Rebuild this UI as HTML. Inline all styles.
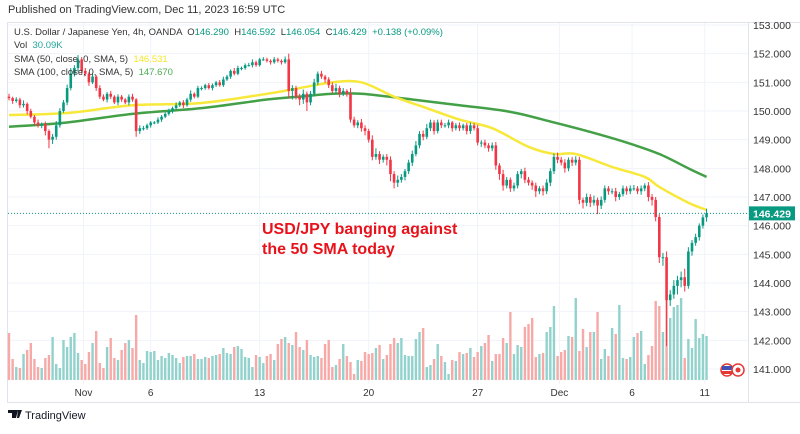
<!DOCTYPE html>
<html><head><meta charset="utf-8">
<style>
html,body{margin:0;padding:0;background:#fff;}
body{width:800px;height:429px;overflow:hidden;font-family:"Liberation Sans",sans-serif;}
svg text{font-family:"Liberation Sans",sans-serif;}
</style></head>
<body>
<svg id="chart" width="800" height="429" viewBox="0 0 800 429" xmlns="http://www.w3.org/2000/svg">
<text x="8" y="13" font-size="11" fill="#333">Published on TradingView.com, Dec 11, 2023 16:59 UTC</text>
<rect x="7.5" y="22.5" width="800" height="380" fill="none" stroke="#e0e3eb"/>
<line x1="748.5" y1="22" x2="748.5" y2="402" stroke="#e0e3eb"/>
<g id="grid"></g>
<g id="vol"></g>
<g id="smas"></g>
<g id="candles"></g>
<g id="axes"></g>
<g font-size="9.5" fill="#333">
<text x="14" y="35" xml:space="preserve">U.S. Dollar / Japanese Yen, 4h, OANDA  O<tspan fill="#089981">146.290</tspan>  H<tspan fill="#089981">146.592</tspan>  L<tspan fill="#089981">146.054</tspan>  C<tspan fill="#089981">146.429  +0.138 (+0.09%)</tspan></text>
<text x="14" y="48" xml:space="preserve">Vol  <tspan fill="#26a69a">30.09K</tspan></text>
<text x="14" y="62" xml:space="preserve">SMA (50, close, 0, SMA, 5)  <tspan fill="#f5e626">146.531</tspan></text>
<text x="14" y="75" xml:space="preserve">SMA (100, close, 0, SMA, 5)  <tspan fill="#4caf50">147.670</tspan></text>
</g>
<g font-size="16" font-weight="bold" fill="#e8121a">
<text x="262" y="234">USD/JPY banging against</text>
<text x="262" y="254">the 50 SMA today</text>
</g>
<g>
<circle cx="727" cy="370" r="6" fill="#fff" stroke="#e53935" stroke-width="1.5"/>
<rect x="722" y="366" width="10" height="4" fill="#3f51b5"/>
<rect x="722" y="371" width="10" height="3" fill="#e53935"/>
<circle cx="738" cy="370" r="6" fill="#fff" stroke="#e53935" stroke-width="1.5"/>
<circle cx="738" cy="370" r="2.5" fill="#e53935"/>
</g>
<g>
<path d="M8 410h7v8h-3v-5h-4z M15 410h3l-2 8h-1z M18 410h4l-3 8h-2z" fill="#131722"/>
<text x="25" y="419" font-size="11" fill="#131722">TradingView</text>
</g>
</svg>
<script>
const firstOpen = 150.5;
const closes = [150.45,150.35,150.4,150.2,150.25,150.0,149.8,149.6,149.5,149.55,
149.3,149.0,149.1,149.5,150.0,150.3,150.8,151.3,151.5,151.8,
151.4,151.3,151.0,151.2,150.8,150.5,150.4,150.6,150.5,150.3,
150.5,150.4,150.3,150.5,150.4,149.3,149.4,149.4,149.5,149.6,
149.6,149.7,149.8,149.9,150.0,150.1,150.2,150.3,150.2,150.4,
150.6,150.5,150.8,150.8,150.9,150.8,150.9,151.0,150.9,151.1,
151.2,151.4,151.3,151.5,151.5,151.6,151.6,151.7,151.6,151.8,
151.8,151.75,151.7,151.8,151.75,151.7,151.8,150.7,150.8,150.5,
150.4,150.6,150.3,150.6,151.0,151.3,151.2,151.1,150.9,150.7,
150.8,150.6,150.7,150.6,149.7,149.5,149.6,149.4,149.3,149.0,
148.4,148.5,148.3,148.4,148.3,147.8,147.5,147.6,147.7,147.9,
148.2,148.5,148.8,149.2,149.1,149.4,149.6,149.3,149.6,149.5,
149.5,149.6,149.4,149.5,149.4,149.5,149.3,149.5,149.4,148.9,
148.9,148.8,148.7,148.8,148.1,147.8,147.4,147.6,147.3,147.4,
147.8,147.9,147.6,147.5,147.4,147.2,147.3,147.2,147.5,147.9,
148.4,148.3,148.2,148.0,148.3,148.2,148.3,146.9,146.8,147.0,
146.8,146.9,146.7,146.9,147.3,147.2,147.2,147.0,147.1,147.3,
147.2,147.3,147.3,147.2,147.3,147.4,147.0,146.9,146.3,144.9,
144.9,143.4,143.6,143.9,144.1,144.2,143.9,145.1,145.4,145.6,
146.0,146.29,146.43];
const wickUpCents = [10,5,8,6,12,5,8,6,10,5,8,6,10,15,10,8,12,20,10,15,
8,10,6,12,5,10,8,6,10,5,8,6,5,8,10,5,10,8,6,5,
5,8,6,5,8,5,10,5,8,6,12,5,8,6,5,8,6,5,8,10,
6,5,10,8,5,6,8,10,6,5,8,6,5,8,6,5,10,20,10,8,
10,15,8,10,12,8,10,6,8,10,15,8,10,6,20,10,8,12,10,8,
15,20,10,8,10,12,10,15,10,8,10,12,15,10,12,15,10,8,10,10,
8,10,5,8,10,6,8,10,8,12,8,10,8,10,12,8,15,10,8,10,
10,8,12,10,8,10,8,10,12,10,12,15,10,12,8,10,12,10,8,12,
10,15,8,12,10,8,10,12,8,10,8,10,12,8,10,8,12,10,10,10,
15,20,15,20,15,20,30,15,10,12,8,10,16];
const wickDnCents = [8,10,6,10,8,12,6,10,8,10,15,30,15,10,8,6,10,8,10,12,
10,8,12,6,10,8,6,10,8,6,10,8,6,10,8,20,10,8,6,8,
6,5,8,5,6,8,5,6,10,5,8,6,5,8,6,5,8,6,5,6,
5,8,6,5,8,6,5,8,6,5,5,6,8,5,6,8,5,25,30,10,
20,15,30,10,8,10,8,12,10,8,10,12,8,10,10,8,10,12,15,10,
12,10,15,10,20,25,20,15,10,12,10,12,8,10,12,8,10,12,8,10,
8,10,12,8,10,8,12,10,8,10,15,10,12,10,15,20,18,10,12,10,
10,15,12,10,15,20,10,15,10,12,10,12,10,15,10,12,10,15,20,12,
15,10,30,12,10,12,10,15,10,8,12,10,8,10,12,10,15,20,15,20,
30,160,20,15,30,25,20,10,15,10,12,10,15];
const volumes = [47,21,13,12,26,30,37,21,13,12,22,25,43,16,12,40,33,43,47,27,
20,16,28,37,49,17,12,33,42,22,20,30,37,40,32,65,20,17,29,28,
29,20,24,22,27,25,22,17,23,24,24,26,21,21,23,22,24,25,26,32,
27,26,33,34,31,23,22,13,25,23,17,24,26,20,36,41,43,37,35,48,
33,30,40,25,23,24,22,36,40,13,15,21,36,24,18,6,20,19,28,26,
27,32,
35,21,25,36,42,37,42,25,24,24,41,48,52,13,15,21,36,24,18,6,
20,19,28,26,27,32,23,28,34,37,45,19,26,26,42,37,68,26,35,33,
53,56,62,23,26,27,48,53,74,24,28,30,44,43,82,29,51,33,48,48,
68,21,31,24,52,46,75,22,21,23,43,47,49,16,25,34,79,74,48,85,
62,73,75,82,22,41,32,61,42,46,44];
const sma50Idx = [0,16,34,53,71,80,89,97,106,115,124,133,143,150,156,166,175,179,187,192];
const sma50Val = [149.86,149.93,150.2,150.28,150.6,150.8,151.0,151.0,150.5,150.1,149.7,149.4,148.75,148.5,148.5,148.05,147.7,147.35,146.8,146.55];
const sma100Idx = [0,16,34,53,71,80,89,97,111,124,138,150,160,170,179,187,192];
const sma100Val = [149.45,149.6,149.9,150.1,150.4,150.5,150.6,150.6,150.4,150.2,149.97,149.6,149.27,148.9,148.5,148.0,147.7];
const priceTicks = [153,152,151,150,149,148,147,146,145,144,143,142,141];
const timeLabels = ["Nov","6","13","20","27","Dec","6","11"];
const timeIdx = [20.5,39,69,99,129,151.5,171.5,191.5];
const lastPrice = 146.429;

const NS="http://www.w3.org/2000/svg";
const xOf = i => 9 + i*3.633;
const yOf = p => 25 + (153 - p)*28.667;
const yVol = v => 380 - v;
function mk(tag, attrs, parent){const e=document.createElementNS(NS,tag);for(const k in attrs)e.setAttribute(k,attrs[k]);parent.appendChild(e);return e;}
const grid=document.getElementById('grid'), axes=document.getElementById('axes');
priceTicks.forEach(p=>{
  const l=mk('line',{x1:8,x2:748,y1:yOf(p),y2:yOf(p),stroke:'#f0f3fa'},grid);
  
  
  const t=mk('text',{x:753,y:yOf(p)+4,'font-size':10.5,fill:'#333'},axes);
  t.textContent=p.toFixed(3);
  
  
});
timeLabels.forEach((s,k)=>{
  const x=xOf(timeIdx[k]);
  const l=mk('line',{x1:x,x2:x,y1:23,y2:384,stroke:'#f0f3fa'},grid);
  
  
  const t=mk('text',{x:x,y:396,'font-size':10,fill:'#333','text-anchor':'middle'},axes);
  t.textContent=s;
  
  
});
const vol=document.getElementById('vol'), cg=document.getElementById('candles');
let prev=firstOpen;
closes.forEach((c,i)=>{
  const o=prev; prev=c;
  const up=c>=o, x=xOf(i);
  const hi=Math.max(o,c)+wickUpCents[i]/100, lo=Math.min(o,c)-wickDnCents[i]/100;
  const v=mk('rect',{x:x-1.2,y:yVol(volumes[i]),width:2.4,height:volumes[i],fill:up?'#92d2cc':'#f7a9a7'},vol);
  
  
  const col=up?'#089981':'#f23645';
  const w=mk('line',{x1:x,x2:x,y1:yOf(hi),y2:yOf(lo),stroke:col,'stroke-width':1},cg);
  
  
  const yt=yOf(Math.max(o,c)), yb=yOf(Math.min(o,c));
  const b=mk('rect',{x:x-1.3,y:yt,width:2.6,height:Math.max(1,yb-yt),fill:col},cg);
  
  
});
const smas=document.getElementById('smas');
function smaPath(idx,val){
  const pts=idx.map((i,k)=>[xOf(i),yOf(val[k])]);
  let d='M'+pts[0][0]+' '+pts[0][1];
  for(let k=0;k<pts.length-1;k++){
    const p0=pts[Math.max(0,k-1)],p1=pts[k],p2=pts[k+1],p3=pts[Math.min(pts.length-1,k+2)];
    d+=' C'+(p1[0]+(p2[0]-p0[0])/6)+' '+(p1[1]+(p2[1]-p0[1])/6)+' '+(p2[0]-(p3[0]-p1[0])/6)+' '+(p2[1]-(p3[1]-p1[1])/6)+' '+p2[0]+' '+p2[1];
  }
  return d;
}
const s100=mk('path',{d:smaPath(sma100Idx,sma100Val),fill:'none',stroke:'#43a047','stroke-width':2.5},smas);


const s50=mk('path',{d:smaPath(sma50Idx,sma50Val),fill:'none',stroke:'#f7e83a','stroke-width':2.5},smas);


const pl=mk('line',{x1:8,x2:748,y1:yOf(lastPrice),y2:yOf(lastPrice),stroke:'#089981','stroke-dasharray':'1 2'},axes);


const pr=mk('rect',{x:749,y:yOf(lastPrice)-7,width:46,height:14,fill:'#089981'},axes);


const pt=mk('text',{x:753,y:yOf(lastPrice)+4,'font-size':10.5,fill:'#fff','font-weight':'bold'},axes);
pt.textContent=lastPrice.toFixed(3);


</script>
</body></html>
